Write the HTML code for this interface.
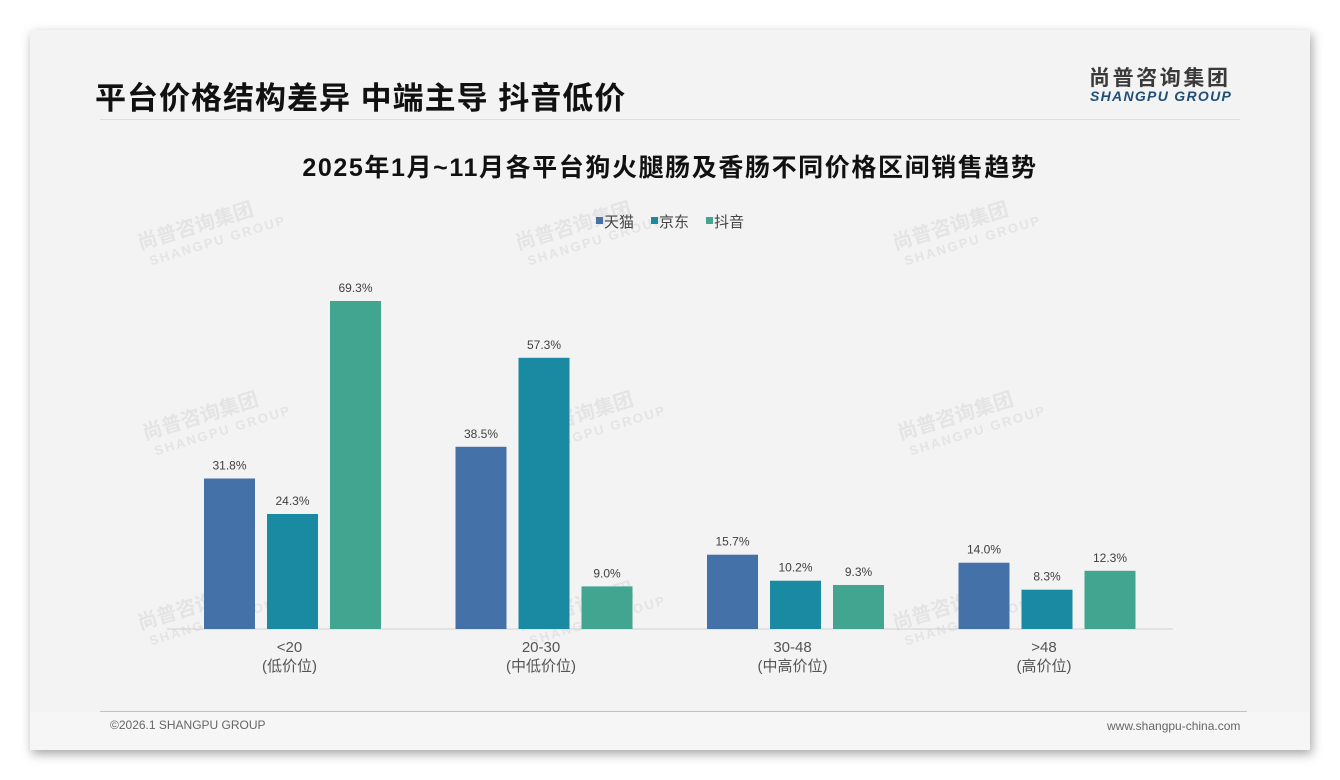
<!DOCTYPE html>
<html><head><meta charset="utf-8">
<style>
html,body{margin:0;padding:0;width:1340px;height:780px;background:#fff;overflow:hidden;font-family:"Liberation Sans","Noto Sans CJK SC",sans-serif;}
#slide{position:absolute;left:30px;top:30px;width:1280px;height:720px;background:#f3f3f3;box-shadow:2px 4px 10px rgba(0,0,0,0.35);}
.abs{position:absolute;}
</style></head><body>
<div id="slide">
  <div class="abs" style="left:65px;top:43px;font-size:31px;font-weight:bold;color:#111;letter-spacing:1px;">平台价格结构差异 中端主导 抖音低价</div>
  <div class="abs" style="left:70px;top:89px;width:1140px;height:1px;background:#dcdcdc;"></div>
  <div class="abs" style="left:1059px;top:37px;font-size:21px;font-weight:bold;color:#3a3a3a;letter-spacing:2.6px;line-height:24px;">尚普咨询集团</div>
  <div class="abs" style="left:1060px;top:58px;font-size:14px;font-weight:bold;font-style:italic;color:#1f4e79;letter-spacing:1.3px;line-height:16px;">SHANGPU GROUP</div>
  <div class="abs" style="left:0;top:682px;width:1280px;height:38px;background:#f6f6f6;"></div>
  <div class="abs" style="left:70px;top:681px;width:1147px;height:1px;background:#b8c4d2;"></div>
  <div class="abs" style="left:80px;top:688px;font-size:12px;color:#666;">©2026.1 SHANGPU GROUP</div>
  <div class="abs" style="left:1077px;top:689px;font-size:12px;color:#666;">www.shangpu-china.com</div>
</div>
<svg id="chart" class="abs" style="left:0;top:0" width="1340" height="780">
  <g id="wm" fill="#e4e4e4" font-weight="bold"></g>
  <text x="670" y="176" text-anchor="middle" font-size="25" font-weight="bold" fill="#111" letter-spacing="1.6">2025年1月~11月各平台狗火腿肠及香肠不同价格区间销售趋势</text>
  <g id="legend"></g>
  <line x1="167" y1="629" x2="1173" y2="629" stroke="#d0d0d0" stroke-width="1"/>
  <g id="bars"></g>
  <g id="xlabels"></g>
</svg>
<script>
const categories = ["<20", "20-30", "30-48", ">48"];
const subLabels = ["(低价位)", "(中低价位)", "(中高价位)", "(高价位)"];
const seriesNames = ["天猫", "京东", "抖音"];
const tmall = [31.8, 38.5, 15.7, 14.0];
const jd = [24.3, 57.3, 10.2, 8.3];
const douyin = [69.3, 9.0, 9.3, 12.3];
const seriesColors = ["#4472a8", "#1a8aa3", "#41a590"];

const NS = "http://www.w3.org/2000/svg";
const baseY = 629, pxPer = 328/69.3;
const yScale = v => baseY - v*pxPer;
const xCenter = i => 292.5 + i*251.5;
const barW = 51, barStep = 63;
function mk(tag, attrs, parent){const e=document.createElementNS(NS,tag);for(const k in attrs)e.setAttribute(k,attrs[k]);parent.appendChild(e);return e;}

const wm = document.getElementById('wm');
[[140,250],[518,250],[895,250],[145,440],[520,440],[900,440],[140,630],[520,630],[895,630]].forEach(p=>{
  const g = mk('g',{transform:`translate(${p[0]},${p[1]}) rotate(-17)`},wm);
  
  
  const t1=mk('text',{x:0,y:0,'font-size':20},g); t1.textContent='尚普咨询集团';
  const t2=mk('text',{x:6,y:18,'font-size':13,'letter-spacing':2},g); t2.textContent='SHANGPU GROUP';
});

const lg = document.getElementById('legend');
const lx=[596,651,706];
seriesNames.forEach((n,i)=>{
  const r=mk('rect',{x:lx[i],y:217,width:7,height:7,fill:seriesColors[i]},lg);
  
  
  const t=mk('text',{x:lx[i]+8,y:227,'font-size':15,fill:'#444'},lg); t.textContent=n;
  
  
});

const bg = document.getElementById('bars');
[tmall, jd, douyin].forEach((series,s)=>{
  series.forEach((v,i)=>{
    const x = xCenter(i) + (s-1)*barStep - barW/2;
    const y = yScale(v);
    const r = mk('rect',{x:x,y:y,width:barW,height:baseY-y,fill:seriesColors[s]},bg);
    
    
    const t = mk('text',{x:x+barW/2,y:y-9,'text-anchor':'middle','font-size':12,fill:'#404040'},bg);
    t.textContent = v.toFixed(1)+'%';
    
    
  });
});

const xl = document.getElementById('xlabels');
categories.forEach((c,i)=>{
  const t=mk('text',{x:xCenter(i)-3,y:652,'text-anchor':'middle','font-size':15,fill:'#555'},xl); t.textContent=c;
  
  
  const t2=mk('text',{x:xCenter(i)-3,y:671,'text-anchor':'middle','font-size':15,fill:'#555'},xl); t2.textContent=subLabels[i];
  
  
});
</script>
</body></html>
